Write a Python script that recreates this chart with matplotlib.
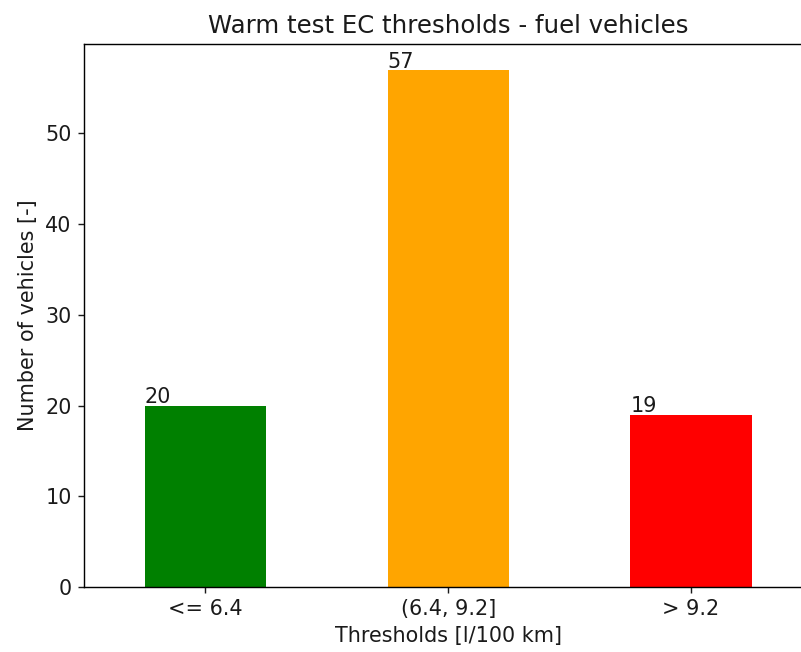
import matplotlib
matplotlib.use("Agg")
import matplotlib.pyplot as plt

# Fuel consumption bands and vehicle counts
categories = ["<= 6.4", "(6.4, 9.2]", "> 9.2"]
counts = [20, 57, 19]
colors = ["green", "orange", "red"]

DPI = 127
plt.rcParams["font.size"] = 11.8
plt.rcParams["text.color"] = "#1a1a1a"
plt.rcParams["axes.labelcolor"] = "#1a1a1a"
plt.rcParams["xtick.color"] = "#1a1a1a"
plt.rcParams["ytick.color"] = "#1a1a1a"

fig = plt.figure(figsize=(801 / DPI, 652 / DPI), dpi=DPI)
ax = fig.add_axes([84 / 801, 1 - 587 / 652, (812.5 - 84) / 801, (587 - 44) / 652])

x = list(range(len(categories)))
ax.bar(x, counts, width=0.5, color=colors)
ax.set_xlim(-0.5, len(categories) - 0.5)
ax.set_ylim(0, max(counts) * 1.05)
ax.set_xticks(x)
ax.set_xticklabels(categories, rotation=0)
ax.spines["right"].set_visible(False)

for i, v in enumerate(counts):
    ax.text(i - 0.25, v + 0.25, str(v))

ax.set_title("Warm test EC thresholds - fuel vehicles", fontsize=13.8)
ax.set_xlabel("Thresholds [l/100 km]")
ax.set_ylabel("Number of vehicles [-]")

fig.savefig("out.png", dpi=DPI)
